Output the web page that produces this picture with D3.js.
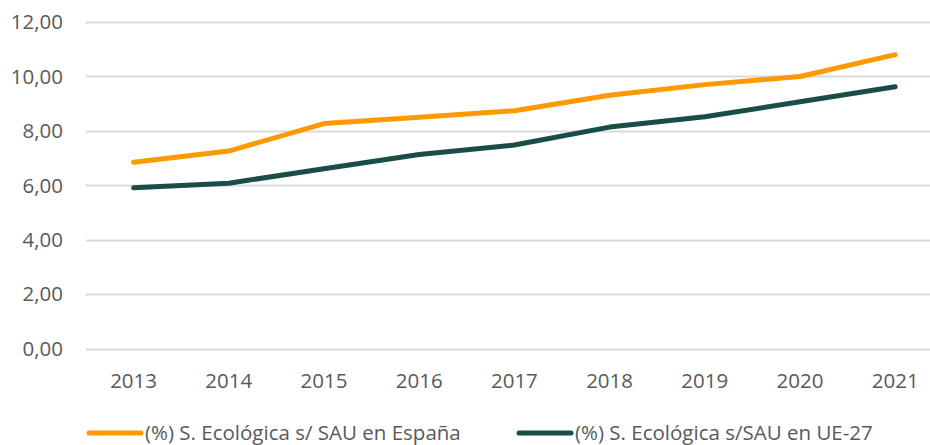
<!DOCTYPE html>
<html>
<head>
<meta charset="utf-8">
<script src="https://cdn.jsdelivr.net/npm/d3@7"></script>
<style>
  body { margin: 0; background: #fff; }
  svg text { font-family: "Open Sans", Lato, sans-serif; fill: #595959; }
</style>
</head>
<body>
<div id="chart"></div>
<script>
var years = [2013, 2014, 2015, 2016, 2017, 2018, 2019, 2020, 2021];
var espana = [6.85, 7.26, 8.27, 8.50, 8.74, 9.31, 9.70, 10.00, 10.80];
var ue27 = [5.91, 6.08, 6.61, 7.13, 7.48, 8.14, 8.52, 9.07, 9.62];
var yTicks = [0, 2, 4, 6, 8, 10, 12];
var seriesNames = ["(%) S. Ecológica s/ SAU en España", "(%) S. Ecológica s/SAU en UE-27"];
var seriesColors = ["#FF9900", "#184E45"];

render();

function render() {

    var w = 930, h = 445;
    var margin = {top: 22, right: 0, bottom: 96, left: 86};

    var svg = d3.select("#chart").append("svg")
        .attr("width", w)
        .attr("height", h);

    var x = d3.scaleBand()
        .domain(years)
        .range([margin.left, margin.left + 9 * 95.2]);

    var y = d3.scaleLinear()
        .domain([0, 12])
        .range([h - margin.bottom - 0.3, margin.top]);

    var fmt = function (d) { return d3.format(".2f")(d).replace(".", ","); };

    /* gridlines */
    svg.append("g")
        .selectAll("line")
        .data(yTicks)
        .enter().append("line")
        .attr("x1", margin.left)
        .attr("x2", w)
        .attr("y1", function (d) { return Math.round(y(d)) + 0.5; })
        .attr("y2", function (d) { return Math.round(y(d)) + 0.5; })
        .style("stroke", "#D9D9D9")
        .style("stroke-width", 2);

    /* y labels */
    svg.append("g")
        .selectAll("text")
        .data(yTicks)
        .enter().append("text")
        .attr("x", 63)
        .attr("y", function (d) { return y(d); })
        .attr("dy", "0.35em")
        .attr("text-anchor", "end")
        .style("font-size", "20.5px")
        .text(fmt);

    /* x labels */
    svg.append("g")
        .selectAll("text")
        .data(years)
        .enter().append("text")
        .attr("x", function (d) { return x(d) + x.bandwidth() / 2; })
        .attr("y", 381)
        .attr("dy", "0.35em")
        .attr("text-anchor", "middle")
        .style("font-size", "20.5px")
        .text(function (d) { return d; });

    var line = d3.line()
        .x(function (d, i) { return x(years[i]) + x.bandwidth() / 2; })
        .y(function (d) { return y(d); });

    [espana, ue27].forEach(function (s, i) {
        svg.append("path")
            .datum(s)
            .attr("d", line)
            .style("fill", "none")
            .style("stroke", seriesColors[i])
            .style("stroke-width", 5)
            .style("stroke-linecap", "round")
            .style("stroke-linejoin", "round");
    });

    /* legend */
    var legendX = [87, 517];
    var legend = svg.append("g")
        .selectAll("g")
        .data(seriesNames)
        .enter().append("g")
        .attr("transform", function (d, i) { return "translate(" + legendX[i] + ",433)"; });

    legend.append("line")
        .attr("x1", 2)
        .attr("x2", 54)
        .style("stroke", function (d, i) { return seriesColors[i]; })
        .style("stroke-width", 5)
        .style("stroke-linecap", "round");

    legend.append("text")
        .attr("x", 58)
        .attr("dy", "0.35em")
        .style("font-size", "20.5px")
        .text(function (d) { return d; });
}
</script>
</body>
</html>
